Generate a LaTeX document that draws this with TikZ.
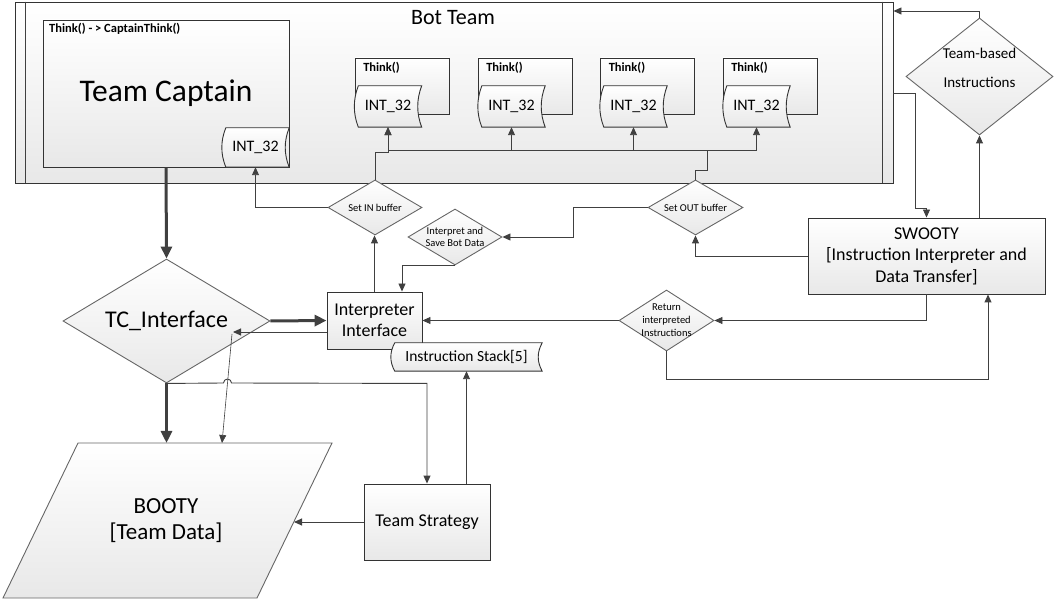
\documentclass[tikz,border=0pt]{standalone}
\usepackage{fontspec}
\setmainfont{Carlito}
\usetikzlibrary{arrows.meta,shapes.geometric,calc}
\pgfdeclarelayer{back}
\pgfdeclarelayer{mid}
\pgfdeclarelayer{tapelayer}
\pgfsetlayers{back,mid,tapelayer,main}
\newcommand\myfs[2]{\fontsize{#1}{#2}\selectfont}
\newcommand\tapeline[1]{%
  \path[boxfill] let \p1=(#1.north west), \p2=(#1.south east) in
   ({\x1+4pt},\y1) -- (\x2,\y1)
   .. controls ({\x2-5.3pt},{(2*\y1+\y2)/3}) and ({\x2-5.3pt},{(\y1+2*\y2)/3}) .. (\x2,\y2)
   -- ({\x1+4pt},\y2)
   .. controls ({\x1-1.3pt},{(\y1+2*\y2)/3}) and ({\x1-1.3pt},{(2*\y1+\y2)/3}) .. cycle;}
\begin{document}
\begin{tikzpicture}[x=1pt,y=-1pt,
  line/.style={draw=black!75, line width=0.9pt},
  arr/.style={line, -{Triangle[length=8pt,width=7pt]}},
  thickarr/.style={draw=black!75, line width=3pt, -{Triangle[length=12pt,width=11pt]}},
  boxfill/.style={top color=white, bottom color=black!9, draw=black!80, line width=0.9pt},
  box/.style={boxfill, rectangle, inner sep=0pt},
  dia/.style={boxfill, draw=black!60, diamond, inner sep=0pt},
  tapetext/.style={rectangle, inner sep=0pt, font=\myfs{16}{19}},
  thinklbl/.style={anchor=north west, inner sep=0pt, font=\bfseries\myfs{12.5}{15}},
]
\useasboundingbox (0,0) rectangle (1055,601);

% ---------- back layer: Bot Team container
\begin{pgfonlayer}{back}
\node[box, minimum width=878pt, minimum height=181pt] (bot) at (454,92.5) {};
\draw[line] ($(bot.north west)+(11,0)$) -- ($(bot.south west)+(11,0)$);
\draw[line] ($(bot.north east)+(-11,0)$) -- ($(bot.south east)+(-11,0)$);
\node[font=\myfs{22}{26}] (bottitle) at (453,18) {Bot Team};
\end{pgfonlayer}

% ---------- mid layer: boxes and diamonds
\begin{pgfonlayer}{mid}
\node[box, minimum width=246pt, minimum height=147pt, font=\myfs{31.5}{36}] (capt) at (166,93.5) {Team Captain};
\node[thinklbl] (captlbl) at (49,23) {Think() - > CaptainThink()};
\foreach \i/\cx in {1/402,2/525,3/647.5,4/770}{
  \node[box, minimum width=94pt, minimum height=56pt] (tb\i) at (\cx,86) {};
  \node[thinklbl] (tl\i) at ($(tb\i.north west)+(8.5,4)$) {Think()};
}
\node[box, minimum width=95pt, minimum height=57pt, font=\myfs{18}{21.5}, align=center] (interp) at (374.5,320.5) {Interpreter\\Interface};
\node[box, minimum width=237pt, minimum height=76pt, font=\myfs{18}{21.5}, align=center] (swooty) at (926.5,256) {SWOOTY\\{}[Instruction Interpreter and\\Data Transfer]};
\node[box, minimum width=126pt, minimum height=76pt, font=\myfs{18}{21.5}] (strat) at (427,522) {Team Strategy};
\node[dia, minimum width=207pt, minimum height=124pt] (tc) at (166.5,321) {};
\node[dia, minimum width=94pt, minimum height=55pt] (setin) at (375,207.5) {};
\node[dia, minimum width=94pt, minimum height=56pt] (isave) at (455,237) {};
\node[dia, minimum width=95pt, minimum height=55pt] (setout) at (695.5,207.5) {};
\node[dia, minimum width=95pt, minimum height=61pt] (ret) at (666.5,320.5) {};
\node[dia, minimum width=147pt, minimum height=117pt] (teamb) at (979.5,76.5) {};
\path[boxfill, draw=black!60] (78,443) coordinate (bTL) -- (332,443) coordinate (bTR)
  -- (257,598) coordinate (bBR) -- (3,598) coordinate (bBL) -- cycle;
\end{pgfonlayer}

% ---------- texts
\node[font=\myfs{23}{26}, align=center] (booty) at (166,521) {BOOTY\\{}[Team Data]};
\node[font=\myfs{24}{28}] (tctext) at (tc) {TC\_Interface};
\node[font=\myfs{10.5}{12.5}] (setintext) at (setin) {Set IN buffer};
\node[font=\myfs{10.5}{12.3}, align=center] (isavetext) at (isave) {Interpret and\\Save Bot Data};
\node[font=\myfs{10.5}{12.5}] (setouttext) at (setout) {Set OUT buffer};
\node[font=\myfs{10.5}{13}, align=center] (rettext) at (ret) {Return\\interpreted\\Instructions};
\node[font=\myfs{15}{29}, align=center] (teambtext) at (979.5,68) {Team-based\\Instructions};

% ---------- tapes
\node[tapetext, minimum width=67pt, minimum height=39pt] (ctape) at (255.5,147.5) {INT\_32};
\foreach \i/\cx in {1/388,2/511.5,3/633.5,4/756.5}
  \node[tapetext, minimum width=67pt, minimum height=41pt] (tape\i) at (\cx,106.5) {INT\_32};
\node[tapetext, minimum width=151pt, minimum height=28pt, font=\myfs{15.5}{18}] (stack) at (466.5,357) {Instruction Stack[5]};
\begin{pgfonlayer}{tapelayer}
\foreach \tp in {ctape,tape1,tape2,tape3,tape4,stack} {\tapeline{\tp}}
\end{pgfonlayer}

% ---------- helper coordinates
\coordinate (ifback) at (233,332);
\coordinate (slantTop) at (232,334);
\coordinate (slantBot) at (222,443);
\coordinate (hopL) at (223.5,383);
\coordinate (bootyR) at (294,522);
\coordinate (inbus) at (375,152);
\coordinate (outj1) at (695.5,170);
\coordinate (outj2) at (707,170);
\coordinate (outbus) at (707,150);
\coordinate (sv) at (573,207);
\coordinate (iv) at (402,265);
\coordinate (rb) at (988,379);
\coordinate (tt) at (979.5,11);
\coordinate (bo) at (915,93);
\coordinate (bo2) at (915,208);

% ---------- connectors
\draw[thickarr] (capt.south) -- (tc.north);
\draw[thickarr] (tc.east) -- (interp.west);
\draw[thickarr] (tc.south) -- (tc.south |- bTL);
\draw[arr] (interp.west |- ifback) -- (ifback);
\draw[arr, line width=0.6pt] (slantTop) -- (slantBot);
\draw[arr] (tc.south) -- (hopL) arc[start angle=180, end angle=0, radius=4pt] -- (strat.north |- tc.south) -- (strat.north);
\draw[arr] (strat.west) -- (strat.west -| bootyR);
\draw[arr] (stack.south |- strat.north) -- (stack.south);
\draw[arr] (interp.north) -- (interp.north |- setin.south);
\draw[arr] (setin.west) -| (ctape.south);
\draw[arr] (setin.north) -- (inbus) -| (tape1.south);
\draw[line] (setout.north) -- (outj1) -- (outj2) -- (outbus);
\foreach \t in {1,...,4} \draw[arr] (outbus) -| (tape\t.south);
\draw[arr] (setout.west) -- (setout.west -| sv) |- (isave.east);
\draw[arr] (isave.south) -| (iv |- interp.north);
\draw[arr] (swooty.west) -| (setout.south);
\draw[arr] (swooty.south) |- (ret.east);
\draw[arr] (ret.west) -- (interp.east);
\draw[arr] (ret.south) |- (rb) -- (rb |- swooty.south);
\draw[arr] (teamb.south |- swooty.north) -- (teamb.south);
\draw[arr] (teamb.north) -- (tt) -- (tt -| bot.east);
\draw[arr] (bot.east |- bo) -- (bo) -- (bo2) -| (swooty.north);
\end{tikzpicture}
\end{document}
